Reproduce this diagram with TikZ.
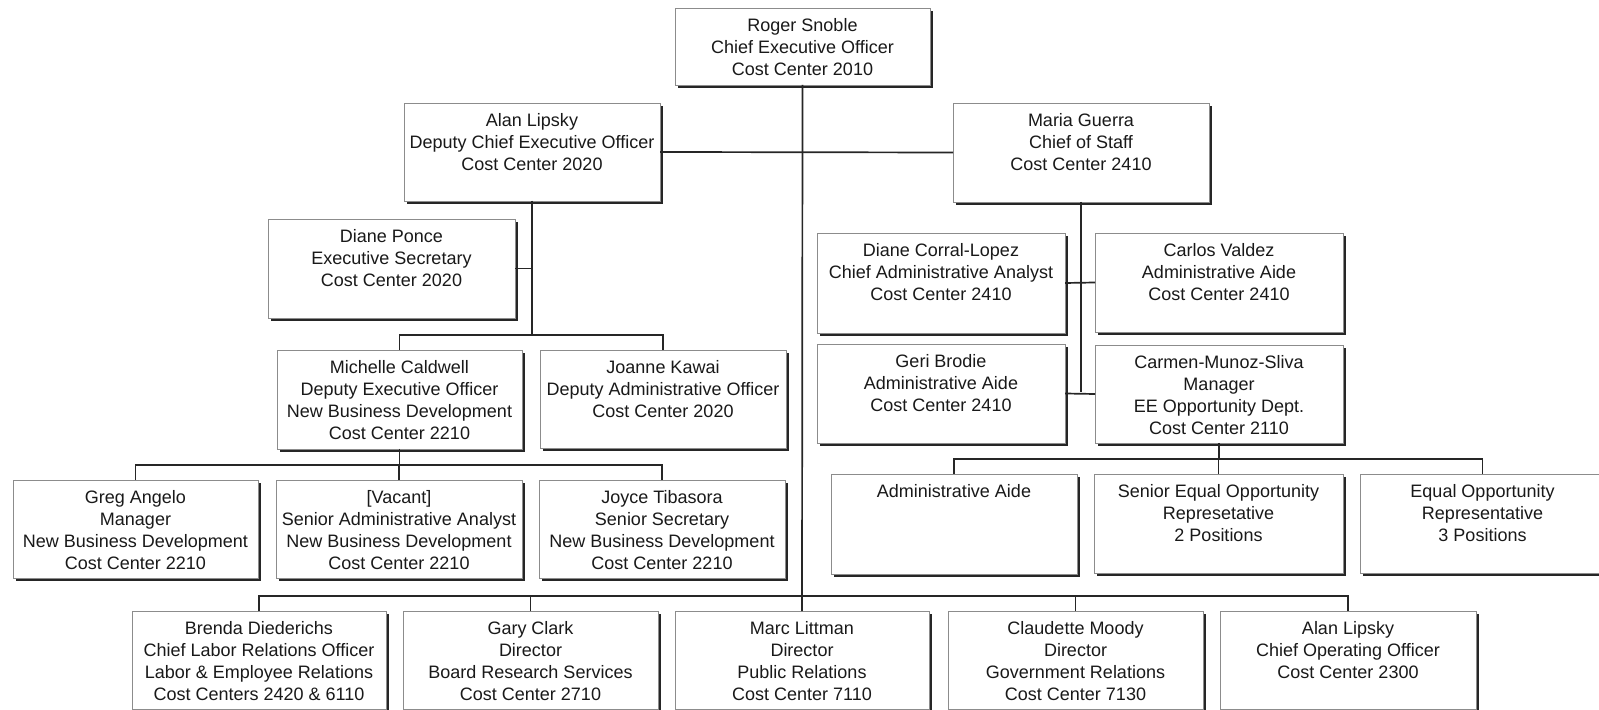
\documentclass[tikz,border=0pt]{standalone}
\usepackage{fontspec}
\setmainfont{Liberation Sans}
\usepackage{tikz}
\usetikzlibrary{shadows}
\newlength{\pxunit}
\setlength{\pxunit}{0.5pt}
\newcommand{\card}[3]{\parbox[c][#2\pxunit][t]{#1\pxunit}{\centering\rule{0pt}{11.7pt}#3}}
\tikzstyle{post}=[draw=black!45, fill=white, inner sep=0, outer sep=0, anchor=north west,
                  font=\fontsize{9}{11}\selectfont, text=black!90,
                  drop shadow={shadow xshift=1.6pt, shadow yshift=-1.6pt, fill=black!85, opacity=1}]
\tikzstyle{link}=[draw=black!85, line width=0.85pt]
\tikzstyle{orgchart}=[x=0.5pt, y=-0.5pt,
                      % Fix the page to the scanned sheet.
                      execute at begin picture={\path[use as bounding box, clip] (0, 0) rectangle (1599, 710);}]
\begin{document}
\begin{tikzpicture}[orgchart]
        \node[post] (roger)     at (675, 8)    {\card{255}{77}{Roger Snoble\\Chief Executive Officer\\Cost Center 2010}};
        \node[post] (alan)      at (404, 103)  {\card{256}{98}{Alan Lipsky\\Deputy Chief Executive Officer\\Cost Center 2020}};
        \node[post] (maria)     at (953, 103)  {\card{256}{99}{Maria Guerra\\Chief of Staff\\Cost Center 2410}};
        \node[post] (ponce)     at (268, 219)  {\card{247}{99}{Diane Ponce\\Executive Secretary\\Cost Center 2020}};
        \node[post] (corral)    at (817, 233)  {\card{248}{100}{Diane Corral-Lopez\\Chief Administrative Analyst\\Cost Center 2410}};
        \node[post] (carlos)    at (1095, 233) {\card{248}{99}{Carlos Valdez\\Administrative Aide\\Cost Center 2410}};
        \node[post] (michelle)  at (277, 350)  {\card{245}{99}{Michelle Caldwell\\Deputy Executive Officer\\New Business Development\\Cost Center 2210}};
        \node[post] (joanne)    at (540, 350)  {\card{246}{98}{Joanne Kawai\\Deputy Administrative Officer\\Cost Center 2020}};
        \node[post] (geri)      at (817, 344)  {\card{248}{99}{Geri Brodie\\Administrative Aide\\Cost Center 2410}};
        \node[post] (carmen)    at (1095, 345) {\card{248}{98}{Carmen-Munoz-Sliva\\Manager\\EE Opportunity Dept.\\Cost Center 2110}};
        \node[post] (greg)      at (13, 480)   {\card{245}{98}{Greg Angelo\\Manager\\New Business Development\\Cost Center 2210}};
        \node[post] (vacant)    at (276, 480)  {\card{246}{98}{[Vacant]\\Senior Administrative Analyst\\New Business Development\\Cost Center 2210}};
        \node[post] (joyce)     at (539, 480)  {\card{246}{98}{Joyce Tibasora\\Senior Secretary\\New Business Development\\Cost Center 2210}};
        \node[post] (aide)      at (831, 474)  {\card{246}{100}{Administrative Aide}};
        \node[post] (seo)       at (1094, 474) {\card{249}{99}{Senior Equal Opportunity\\Represetative\\2 Positions}};
        \node[post] (eo)        at (1360, 474) {\card{245}{99}{Equal Opportunity\\Representative\\3 Positions}};
        \node[post] (brenda)    at (132, 611)  {\card{254}{98}{Brenda Diederichs\\Chief Labor Relations Officer\\Labor \& Employee Relations\\Cost Centers 2420 \& 6110}};
        \node[post] (gary)      at (403, 611)  {\card{255}{98}{Gary Clark\\Director\\Board Research Services\\Cost Center 2710}};
        \node[post] (marc)      at (675, 611)  {\card{254}{98}{Marc Littman\\Director\\Public Relations\\Cost Center 7110}};
        \node[post] (claudette) at (948, 611)  {\card{255}{98}{Claudette Moody\\Director\\Government Relations\\Cost Center 7130}};
        \node[post] (coo)       at (1220, 611) {\card{256}{98}{Alan Lipsky\\Chief Operating Officer\\Cost Center 2300}};
        \draw[link] (roger.south) -- (marc.north);
        \draw[link] (alan.east) -- (maria.west);
        \draw[link] (alan.south) |- (ponce.east);
        \draw[link] (alan.south) -- ++(0, 134);
        \draw[link] (michelle.north) -- ++(0, -15) -| (joanne.north);
        \draw[link] (michelle.south) -- ++(0, 16);
        \draw[link] (greg.north) -- ++(0, -15) -| (joyce.north);
        \draw[link] (vacant.north) -- ++(0, -15);
        \draw[link] (maria.south) -- ++(0, 190);
        \draw[link] (corral.east) -- (carlos.west);
        \draw[link] (geri.east) -- (carmen.west);
        \draw[link] (carmen.south) -- ++(0, 16);
        \draw[link] (aide.north) -- ++(0, -15) -| (eo.north);
        \draw[link] (seo.north) -- ++(0, -15);
        \draw[link] (brenda.north) -- ++(0, -15) -| (coo.north);
        \draw[link] (gary.north) -- ++(0, -15);
        \draw[link] (claudette.north) -- ++(0, -15);
    \end{tikzpicture}
\end{document}
